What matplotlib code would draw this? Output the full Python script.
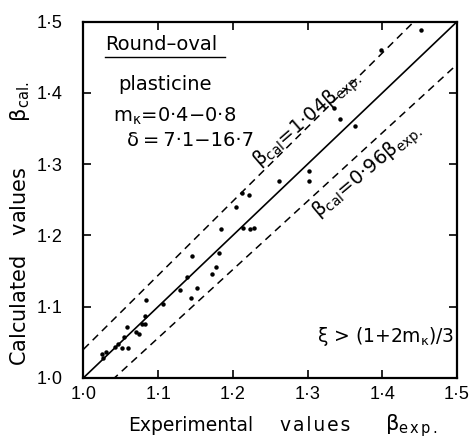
import matplotlib
matplotlib.use("Agg")
import matplotlib.pyplot as plt
import numpy as np

plt.rcParams["font.family"] = ["DejaVu Sans"]
plt.rcParams["mathtext.fontset"] = "dejavusans"

# experimental vs calculated beta
beta_exp = [1.026, 1.030, 1.025, 1.042, 1.046, 1.052, 1.060, 1.054, 1.058, 1.071,
            1.074, 1.078, 1.083, 1.083, 1.084, 1.106, 1.129, 1.144, 1.152, 1.138,
            1.146, 1.172, 1.178, 1.182, 1.184, 1.204, 1.212, 1.222, 1.213, 1.223,
            1.229, 1.262, 1.302, 1.302, 1.336, 1.343, 1.364, 1.398, 1.452]
beta_cal = [1.028, 1.036, 1.034, 1.044, 1.047, 1.042, 1.042, 1.058, 1.072, 1.064,
            1.061, 1.076, 1.076, 1.087, 1.110, 1.104, 1.123, 1.112, 1.126, 1.142,
            1.171, 1.146, 1.156, 1.176, 1.209, 1.240, 1.259, 1.257, 1.210, 1.209,
            1.211, 1.276, 1.291, 1.276, 1.379, 1.363, 1.353, 1.460, 1.489]

ticks = [1.0, 1.1, 1.2, 1.3, 1.4, 1.5]
tick_labels = ["1·0", "1·1", "1·2", "1·3", "1·4", "1·5"]
band_hi = 1.04
band_lo = 0.96

HAIR = "\u200a"


def spaced(word):
    # the scan lettering is a bit wider than any installed font
    return HAIR.join(word)


fig = plt.figure(figsize=(4.74, 4.44), dpi=100)
ax = fig.add_axes([0.176, 0.149, 0.788, 0.802])

line_x = np.array([1.0, 1.5])
ax.plot(line_x, line_x, color="black", lw=1.2)
ax.plot(line_x, band_hi * line_x, color="black", lw=1.1, ls=(0, (5, 3.5)))
ax.plot(line_x, band_lo * line_x, color="black", lw=1.1, ls=(0, (5, 3.5)))
ax.plot(beta_exp, beta_cal, "o", color="black", ms=3.2, mec="none")

ax.set_xlim(1.0, 1.5)
ax.set_ylim(1.0, 1.5)
ax.set_xticks(ticks)
ax.set_yticks(ticks)
ax.set_xticklabels(tick_labels, family=["Liberation Sans"], fontsize=13)
ax.set_yticklabels(tick_labels, family=["Liberation Sans"], fontsize=13)
ax.tick_params(direction="in", length=6, width=1.2, top=True, right=True)
ax.tick_params(axis="x", pad=6)
ax.tick_params(axis="y", pad=15)
for s in ax.spines.values():
    s.set_linewidth(1.6)

# axis labels, placed word by word like the original lettering
ax.text(0.288, -0.134, "Experimental", transform=ax.transAxes,
        ha="center", va="center", fontsize=13.5)
ax.text(0.620, -0.134, spaced("values"), transform=ax.transAxes,
        ha="center", va="center", fontsize=13.5)
ax.text(0.877, -0.134, r"$\mathrm{β_{e\,x\,p\,.}}$", transform=ax.transAxes,
        ha="center", va="center", fontsize=15)
ax.text(-0.17, 0.432, "Calculated   values       $\\mathrm{β_{cal.}}$", transform=ax.transAxes,
        ha="center", va="center", rotation=90, fontsize=15)

# inner annotations
ax.text(0.058, 0.921, "Round–oval", transform=ax.transAxes, fontsize=14, va="baseline")
ax.plot([0.058, 0.379], [0.902, 0.902], transform=ax.transAxes, color="black", lw=1.0)
ax.text(0.092, 0.808, "plasticine", transform=ax.transAxes, fontsize=14, va="baseline")
ax.text(0.08, 0.72, "m$_{\\mathrm{κ}}$=0·4−0·8", transform=ax.transAxes, fontsize=14,
        va="baseline")
ax.text(0.118, 0.652, "δ\u2009=\u20097·1−16·7", transform=ax.transAxes, fontsize=14,
        va="baseline")
ax.text(1.404, 1.058, "ξ > (1+2m$_{\\mathrm{κ}}$)/3", fontsize=13.5, ha="center", va="center")

ax.text(1.300, 1.362, r"$\mathrm{β_{cal}}$=1·04$\mathrm{β_{exp.}}$", fontsize=14,
        rotation=41, rotation_mode="anchor", ha="center", va="center")
ax.text(1.3805, 1.289, r"$\mathrm{β_{cal}}$=0·96$\mathrm{β_{exp.}}$", fontsize=14,
        rotation=40, rotation_mode="anchor", ha="center", va="center")

fig.savefig("out.png", dpi=100)
